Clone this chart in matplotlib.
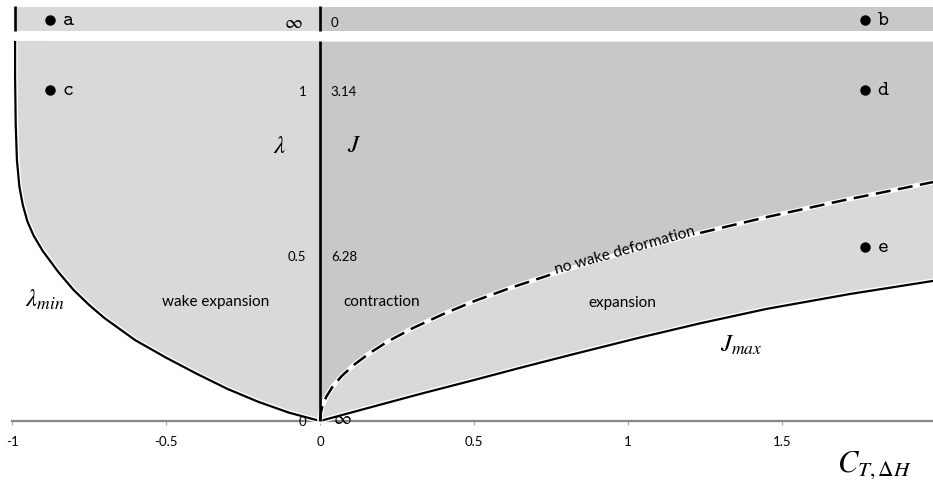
import numpy as np
import matplotlib
matplotlib.use("Agg")
import matplotlib.pyplot as plt
import matplotlib.patheffects as pe

plt.rcParams["font.family"] = ["Lato", "DejaVu Sans"]
plt.rcParams["mathtext.fontset"] = "stix"

# ── data ────────────────────────────────────────────────────────────────
# lambda_min boundary (C_T < 0), ordered from the top down to the origin
lam_x = [-0.99, -0.99, -0.988, -0.984, -0.976, -0.965, -0.95, -0.93, -0.90,
         -0.85, -0.80, -0.75, -0.70, -0.60, -0.50, -0.40, -0.30, -0.20,
         -0.10, 0.0]
lam_y = [1.152, 1.04, 0.90, 0.79, 0.71, 0.655, 0.605, 0.562, 0.515,
         0.452, 0.397, 0.352, 0.312, 0.245, 0.192, 0.143, 0.097, 0.058,
         0.025, 0.0]

# J_max boundary (C_T > 0)
jmax_x = [0.0, 0.162, 0.325, 0.487, 0.649, 0.812, 1.039, 1.234, 1.451, 1.721, 2.0]
jmax_y = [0.0, 0.041, 0.082, 0.121, 0.161, 0.200, 0.253, 0.296, 0.340, 0.385, 0.426]

# "no wake deformation" line
dash_x = [0.0, 0.002, 0.008, 0.02, 0.04, 0.07, 0.11, 0.16, 0.22, 0.30, 0.40,
          0.50, 0.62, 0.747, 0.90, 1.05, 1.234, 1.45, 1.70, 2.0]
dash_y = [0.0, 0.023, 0.046, 0.073, 0.103, 0.136, 0.170, 0.205, 0.241, 0.281,
          0.324, 0.363, 0.404, 0.443, 0.487, 0.526, 0.570, 0.618, 0.669, 0.726]
gap = (13, 16)   # dash stops between these two points where the label sits

lam_top = 1.1515           # top of the finite part of the axis
band = (1.182, 1.2545)     # separate band for lambda = inf / J = 0

y_ticks   = [0.0, 0.5, 1.0]
lam_lbls  = ["0", "0.5", "1"]
j_lbls    = ["", "6.28", "3.14"]
x_ticks   = [-1, -0.5, 0, 0.5, 1, 1.5]
x_lbls    = ["-1", "-0.5", "0", "0.5", "1", "1.5"]

pts_name = ["a", "b", "c", "d", "e"]
pts_x    = [-0.877, 1.769, -0.877, 1.769, 1.769]
pts_y    = [1.216, 1.216, 1.003, 1.003, 0.527]

light = "#d9d9d9"
dark  = "#c8c8c8"

fig = plt.figure(figsize=(9.33, 4.85), dpi=100)
ax = fig.add_axes([0, 0, 1, 1])
ax.set_xlim(-1.039, 1.990)
ax.set_ylim(-0.191, 1.279)
ax.patch.set_alpha(0)

# ── filled regions ───────────────────────────────────────────────────────
ax.fill(lam_x + [0.0], lam_y + [lam_top], color=light, lw=0, zorder=1)
ax.fill_between(dash_x, dash_y, lam_top, color=dark, lw=0, zorder=1)
ax.fill(dash_x + jmax_x[::-1], dash_y + jmax_y[::-1], color=light, lw=0, zorder=1)
ax.fill_between([lam_x[0], 0], band[0], band[1], color=light, lw=0, zorder=1)
ax.fill_between([0, 2.0], band[0], band[1], color=dark, lw=0, zorder=1)

# ── boundaries ───────────────────────────────────────────────────────────
halo = [pe.Stroke(linewidth=3.6, foreground="white"), pe.Normal()]
ax.plot(lam_x, lam_y, color="black", lw=1.6, zorder=3, path_effects=halo,
        solid_capstyle="butt")
ax.plot(jmax_x, jmax_y, color="black", lw=1.6, zorder=3, path_effects=halo)
ax.plot(dash_x, dash_y, color="white", lw=3.4, zorder=3)
ax.plot(dash_x[:gap[0] + 1], dash_y[:gap[0] + 1], color="black", lw=1.8,
        dashes=(6, 3), zorder=4)
ax.plot(dash_x[gap[1]:], dash_y[gap[1]:], color="black", lw=1.8,
        dashes=(6, 3), zorder=4)

# vertical lines (finite part and band)
ax.vlines(0, 0, lam_top, color="black", lw=1.9, zorder=5)
ax.vlines(0, band[0], 1.258, color="black", lw=1.9, zorder=5)
ax.vlines(lam_x[0], band[0], 1.258, color="black", lw=1.9, zorder=5)

# ── x axis through the origin ────────────────────────────────────────────
for s in ("left", "right", "top"):
    ax.spines[s].set_visible(False)
ax.spines["bottom"].set_position(("data", 0))
ax.spines["bottom"].set_bounds(-1, 2.0)
ax.spines["bottom"].set_color("#878787")
ax.spines["bottom"].set_linewidth(1.6)
ax.spines["bottom"].set_zorder(2)
ax.set_xticks(x_ticks)
ax.set_xticklabels(x_lbls)
ax.tick_params(axis="x", direction="out", length=3, width=0.8, color="#a0a0a0",
               labelsize=9.5, pad=7)
ax.set_yticks([])

# y labels on both sides of the C_T = 0 line
for yv, ll, jl in zip(y_ticks, lam_lbls, j_lbls):
    ax.text(-0.045, yv, ll, ha="right", va="center", fontsize=9.5, zorder=6)
    if jl:
        ax.text(0.035, yv, jl, ha="left", va="center", fontsize=9.5, zorder=6)
ax.text(0.042, 0.012, r"$\infty$", ha="left", va="center", fontsize=14, zorder=6)
ax.text(-0.055, 1.212, r"$\infty$", ha="right", va="center", fontsize=14, zorder=6)
ax.text(0.033, 1.209, "0", ha="left", va="center", fontsize=9.5, zorder=6)

# ── big labels ───────────────────────────────────────────────────────────
ax.text(-0.133, 0.815, r"$\lambda$", ha="center", va="baseline", fontsize=18)
ax.text(0.112, 0.818, r"$J$", ha="center", va="baseline", fontsize=18)
ax.text(-0.958, 0.348, r"$\lambda_{min}$", ha="left", va="baseline", fontsize=18)
ax.text(1.30, 0.212, r"$J_{max}$", ha="left", va="baseline", fontsize=18)
ax.text(1.679, -0.152, r"$C_{T,\mathit{\Delta}H}$", ha="left", va="baseline",
        fontsize=22)

ax.text(-0.339, 0.365, "wake expansion", ha="center", va="center", fontsize=11)
ax.text(0.20, 0.364, "contraction", ha="center", va="center", fontsize=11)
ax.text(0.981, 0.362, "expansion", ha="center", va="center", fontsize=11)
ang = np.degrees(np.arctan2((dash_y[gap[1]] - dash_y[gap[0]]) * 330,
                            (dash_x[gap[1]] - dash_x[gap[0]]) * 308))
ax.text((dash_x[gap[0]] + dash_x[gap[1]]) / 2,
        (dash_y[gap[0]] + dash_y[gap[1]]) / 2 + 0.012,
        "no wake deformation", ha="center", va="center", fontsize=11.2,
        rotation=ang, rotation_mode="anchor", zorder=6)

# ── marked points ────────────────────────────────────────────────────────
ax.plot(pts_x, pts_y, "o", color="black", ms=6.5, zorder=6)
for nm, px, py in zip(pts_name, pts_x, pts_y):
    ax.annotate(nm, (px, py), xytext=(9, -3), textcoords="offset points",
                ha="left", va="baseline", fontsize=15, family="cmtt10",
                zorder=6)

fig.savefig("out.png", dpi=100)
